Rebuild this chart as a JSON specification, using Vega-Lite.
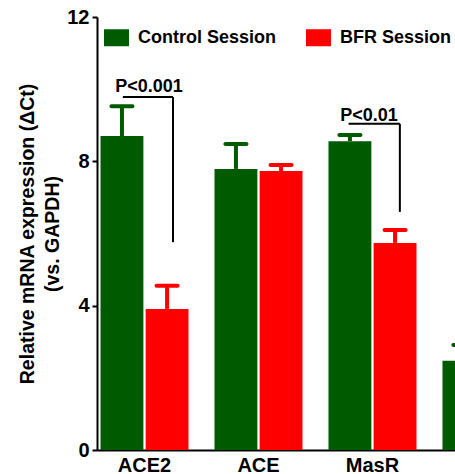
{
  "$schema": "https://vega.github.io/schema/vega-lite/v6.json",
  "width": 358,
  "height": 433,
  "autosize": {"type": "none"},
  "padding": {"left": 97, "top": 17, "right": 0, "bottom": 24},
  "background": "white",
  "config": {
    "view": {"stroke": null},
    "font": "Liberation Sans",
    "axis": {"grid": false, "domainColor": "#000000", "domainWidth": 2, "tickColor": "#000000", "tickWidth": 2, "labelColor": "#000000", "titleColor": "#000000", "labelFont": "Liberation Sans", "titleFont": "Liberation Sans"}
  },
  "datasets": {
    "bars": [
      {"gene": "ACE2", "session": "Control Session", "value": 8.70, "upper": 9.53},
      {"gene": "ACE2", "session": "BFR Session", "value": 3.91, "upper": 4.55},
      {"gene": "ACE", "session": "Control Session", "value": 7.79, "upper": 8.48},
      {"gene": "ACE", "session": "BFR Session", "value": 7.73, "upper": 7.90},
      {"gene": "MasR", "session": "Control Session", "value": 8.56, "upper": 8.73},
      {"gene": "MasR", "session": "BFR Session", "value": 5.74, "upper": 6.10},
      {"gene": "AT1R", "session": "Control Session", "value": 2.47, "upper": 2.91}
    ],
    "brackets": [
      {"x1": -0.19, "x2": 0.25, "y1": 9.78, "y2": 9.78},
      {"x1": 0.25, "x2": 0.25, "y1": 9.78, "y2": 5.76},
      {"x1": 1.79, "x2": 2.24, "y1": 9.04, "y2": 9.04},
      {"x1": 2.24, "x2": 2.24, "y1": 9.04, "y2": 6.60}
    ],
    "labels": [
      {"x": 0.04, "y": 9.92, "label": "P<0.001"},
      {"x": 1.97, "y": 9.12, "label": "P<0.01"}
    ]
  },
  "layer": [
    {
      "data": {"name": "bars"},
      "encoding": {
        "x": {
          "field": "gene", "type": "nominal",
          "scale": {"type": "band", "domain": ["ACE2", "ACE", "MasR", "AT1R"], "range": [0, 437], "paddingInner": 0.228, "paddingOuter": 0.031},
          "axis": {"title": null, "ticks": false, "labelAngle": 0, "labelFontSize": 20, "labelFontWeight": "bold", "labelPadding": 5, "labelExpr": "datum.value == 'AT1R' ? '' : datum.label"}
        },
        "xOffset": {
          "field": "session", "type": "nominal",
          "scale": {"domain": ["Control Session", "BFR Session"], "paddingInner": 0.05}
        },
        "color": {
          "field": "session", "type": "nominal",
          "scale": {"domain": ["Control Session", "BFR Session"], "range": ["#005a00", "#ff0000"]},
          "legend": {
            "title": null, "orient": "none", "direction": "horizontal", "legendX": 7, "legendY": 8,
            "symbolType": "M-1,-0.68H1V0.68H-1Z", "symbolSize": 625, "symbolStrokeWidth": 0, "symbolOpacity": 1,
            "labelFontSize": 18, "labelFontWeight": "bold", "labelColor": "#000000", "labelOffset": 9, "labelLimit": 300,
            "columnPadding": 29, "padding": 0
          }
        }
      },
      "layer": [
        {
          "mark": {"type": "bar"},
          "encoding": {
            "y": {
              "field": "value", "type": "quantitative",
              "scale": {"domain": [0, 12], "nice": false},
              "axis": {
                "values": [0, 4, 8, 12], "tickSize": 5, "labelFontSize": 20, "labelFontWeight": "bold", "labelPadding": 3,
                "title": ["Relative mRNA expression (ΔCt)", "(vs. GAPDH)"],
                "titleFontSize": 19.5, "titleFontWeight": "bold", "titleLineHeight": 25, "titlePadding": 4
              }
            }
          }
        },
        {
          "mark": {"type": "rule", "strokeWidth": 4},
          "encoding": {"y": {"field": "value", "type": "quantitative"}, "y2": {"field": "upper"}}
        },
        {
          "mark": {"type": "tick", "thickness": 4, "size": 25, "cornerRadius": 2, "opacity": 1},
          "encoding": {"y": {"field": "upper", "type": "quantitative"}}
        }
      ]
    },
    {
      "data": {"name": "brackets"},
      "mark": {"type": "rule", "color": "#000000", "strokeWidth": 2},
      "encoding": {
        "x": {"field": "x1", "type": "quantitative", "scale": {"domain": [-0.4167, 3.4167], "range": [0, 437], "nice": false, "zero": false}, "axis": null},
        "x2": {"field": "x2"},
        "y": {"field": "y1", "type": "quantitative"},
        "y2": {"field": "y2"}
      }
    },
    {
      "data": {"name": "labels"},
      "mark": {"type": "text", "fontSize": 18, "fontWeight": "bold", "color": "#000000", "align": "center", "baseline": "alphabetic"},
      "encoding": {
        "x": {"field": "x", "type": "quantitative", "scale": {"domain": [-0.4167, 3.4167], "range": [0, 437], "nice": false, "zero": false}, "axis": null},
        "y": {"field": "y", "type": "quantitative"},
        "text": {"field": "label"}
      }
    }
  ],
  "resolve": {"scale": {"x": "independent"}}
}
